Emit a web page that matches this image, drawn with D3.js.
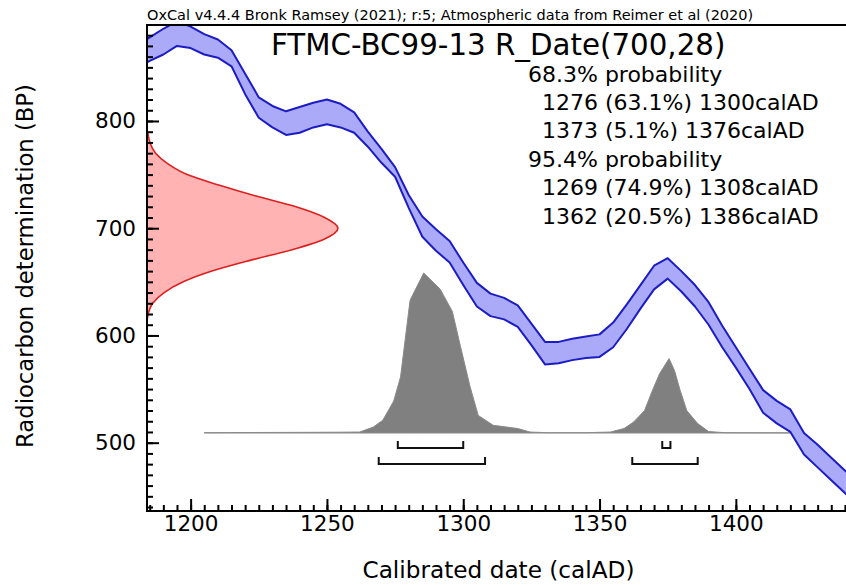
<!DOCTYPE html>
<html>
<head>
<meta charset="utf-8">
<script src="https://cdn.jsdelivr.net/npm/d3@7"></script>
<style>
  body { margin: 0; background: #fff; }
  svg { display: block; }
  text { font-family: "DejaVu Sans", sans-serif; fill: #000; }
</style>
</head>
<body>
<svg id="chart" width="846" height="585"></svg>
<script>
// calibration curve (IntCal20), +/- 1 sigma edges
const calYears = [1180, 1185, 1190, 1195, 1200, 1205, 1210, 1215, 1220, 1225, 1230, 1235, 1240, 1245,
  1250, 1255, 1260, 1265, 1270, 1275, 1280, 1285, 1290, 1295, 1300, 1305, 1310, 1315, 1320, 1325,
  1330, 1335, 1340, 1345, 1350, 1355, 1360, 1365, 1370, 1375, 1380, 1385, 1390, 1395, 1400, 1405,
  1410, 1415, 1420, 1425, 1430, 1435, 1440, 1445];
const calUpper = [870, 878, 886, 893, 888, 881, 876, 866, 844, 822, 814, 809, 813, 817,
  820, 816, 808, 790, 774, 757, 731, 711, 699, 688, 668, 649, 639, 635, 628, 611,
  594, 594, 597, 599, 601, 612, 629, 647, 665, 672, 660, 647, 631, 609, 589, 569,
  549, 539, 531, 509, 498, 486, 474, 464];
const calLower = [849, 856, 862, 870, 868, 862, 859, 851, 825, 803, 794, 787, 789, 794,
  797, 794, 789, 776, 761, 748, 719, 692, 679, 668, 647, 627, 618, 615, 608, 591,
  573, 574, 577, 579, 580, 589, 606, 625, 643, 653, 641, 627, 610, 589, 570, 550,
  528, 518, 510, 489, 477, 465, 453, 443];

// radiocarbon measurement 700 +/- 28 BP (relative density)
const likeBP = [612, 620, 630, 640, 650, 660, 670, 680, 690, 700, 710, 720, 730, 740, 750, 760, 770, 780, 790];
const likeDens = [0, 0.006, 0.03, 0.09, 0.19, 0.34, 0.54, 0.76, 0.93, 1, 0.93, 0.78, 0.57, 0.38, 0.21, 0.11, 0.045, 0.015, 0.004];

// calibrated probability (relative)
const postYears = [1205, 1220, 1240, 1255, 1262, 1267, 1270.5, 1274.5, 1277, 1280.5, 1285.5, 1291.5, 1296,
  1299, 1302.5, 1305.5, 1311, 1316, 1320, 1324.5, 1331, 1345, 1354, 1359, 1362.5, 1366.5, 1369.5,
  1372, 1375.5, 1377.5, 1379.5, 1382, 1386, 1390, 1396, 1420];
const postProb = [0.002, 0.003, 0.004, 0.005, 0.006, 0.037, 0.08, 0.2, 0.35, 0.83, 1, 0.9, 0.76,
  0.54, 0.29, 0.11, 0.048, 0.037, 0.028, 0.006, 0.002, 0.002, 0.006, 0.028, 0.069, 0.14, 0.27,
  0.37, 0.465, 0.39, 0.27, 0.14, 0.059, 0.009, 0.002, 0.001];

const range68 = [[1276, 1300], [1373, 1376]];
const range95 = [[1269, 1308], [1362, 1386]];

const headerText = "OxCal v4.4.4 Bronk Ramsey (2021); r:5; Atmospheric data from Reimer et al (2020)";
const titleText = "FTMC-BC99-13 R_Date(700,28)";
const summaryLines = [
  "68.3% probability",
  "  1276 (63.1%) 1300calAD",
  "  1373 (5.1%) 1376calAD",
  "95.4% probability",
  "  1269 (74.9%) 1308calAD",
  "  1362 (20.5%) 1386calAD"
];

const xMajor = [1200, 1250, 1300, 1350, 1400];
const yMajor = [500, 600, 700, 800];

const svg = d3.select('#chart');
const m = { left: 147, right: 846, top: 25, bottom: 511 };

const x = d3.scaleLinear().domain([1184, 1440.4]).range([m.left, m.right]);
const y = d3.scaleLinear().domain([436.3, 889.5]).range([m.bottom, m.top]);

svg.append('defs').append('clipPath').attr('id', 'plot-clip')
  .append('rect')
  .attr('x', m.left).attr('y', m.top)
  .attr('width', m.right - m.left).attr('height', m.bottom - m.top);

const plot = svg.append('g').attr('clip-path', 'url(#plot-clip)');

// calibrated distribution
const postBase = 433;
const pScale = d3.scaleLinear().domain([0, 1]).range([postBase, postBase - 160]);
const post = postYears.map((yr, i) => ({ yr, p: postProb[i] }));
plot.append('path')
  .datum(post)
  .attr('fill', '#808080')
  .attr('stroke', '#8a8a8a')
  .attr('stroke-width', 1)
  .attr('d', d3.area()
    .x(d => x(d.yr))
    .y0(postBase)
    .y1(d => pScale(d.p)));

// measurement curve on the y axis
const likeW = d3.scaleLinear().domain([0, 1]).range([m.left, m.left + 191]);
const like = likeBP.map((bp, i) => ({ bp, d: likeDens[i] }));
plot.append('path')
  .datum(like)
  .attr('fill', '#ffb3b3')
  .attr('d', d3.area()
    .y(d => y(d.bp))
    .x0(m.left)
    .x1(d => likeW(d.d))
    .curve(d3.curveMonotoneY));
plot.append('path')
  .datum(like)
  .attr('fill', 'none')
  .attr('stroke', '#dd1f1f')
  .attr('stroke-width', 1.6)
  .attr('d', d3.line()
    .y(d => y(d.bp))
    .x(d => likeW(d.d))
    .curve(d3.curveMonotoneY));

// calibration curve band
const cal = calYears.map((yr, i) => ({ yr, hi: calUpper[i], lo: calLower[i] }));
plot.append('path')
  .datum(cal)
  .attr('fill', '#aaaaf8')
  .attr('d', d3.area()
    .x(d => x(d.yr))
    .y0(d => y(d.lo))
    .y1(d => y(d.hi)));
['hi', 'lo'].forEach(k => {
  plot.append('path')
    .datum(cal)
    .attr('fill', 'none')
    .attr('stroke', '#1c1cc4')
    .attr('stroke-width', 2)
    .attr('stroke-linejoin', 'round')
    .attr('d', d3.line().x(d => x(d.yr)).y(d => y(d[k])));
});

// range brackets
function brackets(ranges, yLine) {
  svg.append('g')
    .selectAll('path')
    .data(ranges)
    .join('path')
    .attr('fill', 'none')
    .attr('stroke', '#111')
    .attr('stroke-width', 2)
    .attr('d', r => `M${x(r[0])},${yLine - 7}V${yLine}H${x(r[1])}V${yLine - 7}`);
}
brackets(range68, 448);
brackets(range95, 464);

// axes (ticks point inward)
const xAxis = svg.append('g').attr('transform', `translate(0,${m.bottom})`);
xAxis.call(d3.axisBottom(x).tickValues(d3.range(1185, 1441, 5)).tickSize(-6).tickFormat(''));
xAxis.select('.domain').remove();
const xAxisMajor = svg.append('g').attr('transform', `translate(0,${m.bottom})`)
  .call(d3.axisBottom(x).tickValues(xMajor).tickSize(-12).tickPadding(5).tickFormat(d3.format('d')));
xAxisMajor.select('.domain').remove();

const yAxis = svg.append('g').attr('transform', `translate(${m.left},0)`);
yAxis.call(d3.axisLeft(y).tickValues(d3.range(440, 890, 10)).tickSize(-6).tickFormat(''));
yAxis.select('.domain').remove();
const yAxisMajor = svg.append('g').attr('transform', `translate(${m.left},0)`)
  .call(d3.axisLeft(y).tickValues(yMajor).tickSize(-12).tickPadding(11).tickFormat(d3.format('d')));
yAxisMajor.select('.domain').remove();

svg.selectAll('.tick line').attr('stroke', '#000').attr('stroke-width', 2);
svg.selectAll('.tick text').attr('font-size', 21.5).attr('font-family', '"DejaVu Sans", sans-serif').attr('fill', '#111');

// frame
svg.append('path')
  .attr('fill', 'none')
  .attr('stroke', '#000')
  .attr('stroke-width', 2)
  .attr('d', `M${m.right + 2},${m.top}H${m.left}V${m.bottom}H${m.right + 2}`);

// texts
svg.append('text')
  .attr('x', m.left).attr('y', 20)
  .attr('font-size', 14.5)
  .attr('fill', '#222')
  .text(headerText);

svg.append('text')
  .attr('x', 271).attr('y', 54.5)
  .attr('font-size', 29.3)
  .text(titleText);

svg.append('g')
  .selectAll('text')
  .data(summaryLines)
  .join('text')
  .attr('x', 528)
  .attr('y', (d, i) => 81.5 + i * 28.4)
  .attr('font-size', 22)
  .style('white-space', 'pre')
  .attr('xml:space', 'preserve')
  .text(d => d);

svg.append('text')
  .attr('x', (m.left + m.right) / 2 + 2)
  .attr('y', 578)
  .attr('text-anchor', 'middle')
  .attr('font-size', 23.2)
  .text('Calibrated date (calAD)');

svg.append('text')
  .attr('transform', `translate(33,${(m.top + m.bottom) / 2 - 2}) rotate(-90)`)
  .attr('text-anchor', 'middle')
  .attr('font-size', 22.7)
  .text('Radiocarbon determination (BP)');
</script>
</body>
</html>
